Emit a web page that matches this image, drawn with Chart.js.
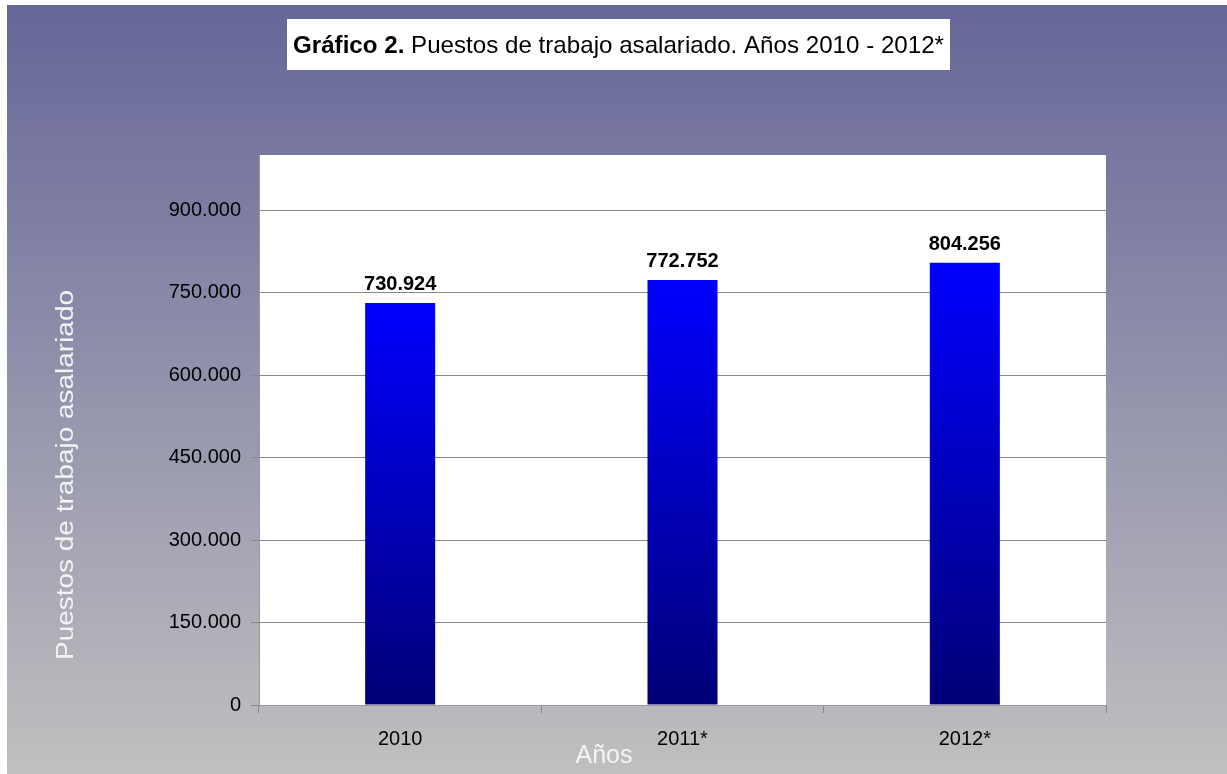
<!DOCTYPE html>
<html>
<head>
<meta charset="utf-8">
<script src="https://cdn.jsdelivr.net/npm/chart.js@4"></script>
<style>
  html, body { margin: 0; padding: 0; background: #fff; }
  #wrap { width: 1227px; height: 774px; }
</style>
</head>
<body>
<div id="wrap"><canvas id="chart" width="1227" height="774"></canvas></div>
<script>
// datos del gráfico
const years = ['2010', '2011*', '2012*'];
const jobs = [730924, 772752, 804256];
const yMax = 1000000;
const yTicks = [0, 150000, 300000, 450000, 600000, 750000, 900000];

const FONT = '"Liberation Sans", Arial, sans-serif';

function fmt(v) {
    return Math.round(v).toString().replace(/\B(?=(\d{3})+(?!\d))/g, '.');
}

/* fondo degradado, area blanca, titulos y etiquetas */
const decor = {
    id: 'decor',
    beforeDraw(chart) {
        const c = chart.ctx;
        const area = chart.chartArea;
        c.save();
        c.fillStyle = '#fff';
        c.fillRect(0, 0, chart.width, chart.height);
        const g = c.createLinearGradient(0, 5, 0, chart.height);
        g.addColorStop(0, '#666699');
        g.addColorStop(1, '#c0c0c0');
        c.fillStyle = g;
        c.fillRect(7, 5, chart.width - 7, chart.height - 5);
        c.fillStyle = '#fff';
        c.fillRect(area.left, area.top, area.right - area.left, area.bottom - area.top);
        c.restore();
    },
    afterDraw(chart) {
        const c = chart.ctx;
        c.save();
        // caja del titulo
        c.fillStyle = '#fff';
        c.fillRect(287, 19, 663, 51);
        const bold = 'Gráfico 2.';
        const rest = ' Puestos de trabajo asalariado. Años 2010 - 2012*';
        c.font = 'bold 24px ' + FONT;
        const wb = c.measureText(bold).width;
        c.font = '24px ' + FONT;
        const wr = c.measureText(rest).width;
        const sx = 651 / (wb + wr);
        c.translate(293, 53);
        c.scale(sx, 1);
        c.fillStyle = '#000';
        c.textBaseline = 'alphabetic';
        c.textAlign = 'left';
        c.font = 'bold 24px ' + FONT;
        c.fillText(bold, 0, 0);
        c.font = '24px ' + FONT;
        c.fillText(rest, wb, 0);
        c.restore();

        // titulo eje y
        c.save();
        c.fillStyle = '#f4f4f4';
        c.font = '23px ' + FONT;
        const ty = 'Puestos de trabajo asalariado';
        const wy = c.measureText(ty).width;
        c.translate(73, 475);
        c.rotate(-Math.PI / 2);
        c.scale(370 / wy, 1);
        c.textAlign = 'center';
        c.textBaseline = 'alphabetic';
        c.fillText(ty, 0, 0);
        c.restore();

        // titulo eje x
        c.save();
        c.fillStyle = '#f4f4f4';
        c.font = '25px ' + FONT;
        c.textAlign = 'center';
        c.fillText('Años', 604, 763);
        c.restore();

        // etiquetas de valores
        c.save();
        c.font = 'bold 20px ' + FONT;
        c.fillStyle = '#000';
        c.textAlign = 'center';
        c.textBaseline = 'alphabetic';
        chart.getDatasetMeta(0).data.forEach((bar, i) => {
            c.fillText(fmt(jobs[i]), bar.x, bar.y - 13);
        });
        c.restore();
    }
};

const ctx = document.getElementById('chart').getContext('2d');
new Chart(ctx, {
    type: 'bar',
    data: {
        labels: years,
        datasets: [{
            data: jobs,
            backgroundColor: (context) => {
                const chart = context.chart;
                if (!chart.chartArea || !chart.scales.y) return '#0000cc';
                const top = chart.scales.y.getPixelForValue(jobs[context.dataIndex]);
                const bottom = chart.scales.y.getPixelForValue(0);
                const g = chart.ctx.createLinearGradient(0, top, 0, bottom);
                g.addColorStop(0, '#0000ff');
                g.addColorStop(1, '#000077');
                return g;
            },
            borderWidth: 0,
            categoryPercentage: 1,
            barPercentage: 0.248
        }]
    },
    options: {
        responsive: false,
        animation: false,
        layout: { padding: { top: 155, right: 121, left: 0, bottom: 0 } },
        plugins: {
            legend: { display: false },
            title: { display: false },
            tooltip: { enabled: false }
        },
        scales: {
            x: {
                afterFit: (s) => { s.height = 69; },
                grid: {
                    offset: true,
                    drawOnChartArea: false,
                    color: '#888',
                    tickLength: 8
                },
                border: { display: true, color: '#999' },
                ticks: {
                    color: '#000',
                    font: { family: FONT, size: 20 },
                    padding: 14
                }
            },
            y: {
                min: 0,
                max: yMax,
                afterFit: (s) => { s.width = 259; },
                afterBuildTicks: (s) => {
                    s.ticks = yTicks.map(v => ({ value: v }));
                },
                grid: {
                    color: '#888',
                    tickLength: 8
                },
                border: { display: true, color: '#999' },
                ticks: {
                    color: '#000',
                    font: { family: FONT, size: 20 },
                    padding: 10,
                    callback: (v) => fmt(v)
                }
            }
        }
    },
    plugins: [decor]
});
</script>
</body>
</html>
